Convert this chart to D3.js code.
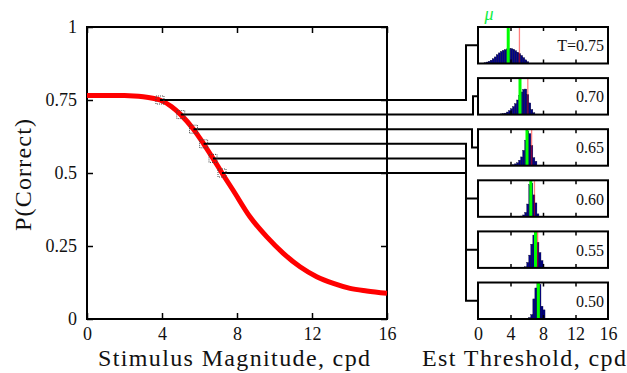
<!DOCTYPE html>
<html><head><meta charset="utf-8">
<script src="https://cdn.jsdelivr.net/npm/d3@7"></script>
<style>
body{margin:0;background:#fff}
svg{display:block}
svg text{font-family:"Liberation Serif","DejaVu Serif","Noto Serif",serif !important;fill:#111}
</style>
</head><body>
<svg id="c" width="627" height="373"></svg>
<script>
// ---------- data ----------
const curveX = [0, 1, 2, 2.5, 3, 3.5, 3.89, 4.5, 5.0, 5.68, 6.22, 6.72, 7.2, 7.8, 8.69, 9.58, 10.47, 11.36, 12.25, 13.14, 14.03, 14.92, 16];
const curveP = [0.765, 0.765, 0.765, 0.764, 0.761, 0.756, 0.75, 0.728, 0.70, 0.65, 0.60, 0.55, 0.50, 0.44, 0.35, 0.282, 0.225, 0.179, 0.145, 0.122, 0.105, 0.096, 0.088];

const levels = [0.75, 0.70, 0.65, 0.60, 0.55, 0.50];
const levelLabels = ["T=0.75", "0.70", "0.65", "0.60", "0.55", "0.50"];
const thresholdX = [3.89, 5.0, 5.68, 6.22, 6.72, 7.2];
const meanX = [3.72, 5.17, 6.03, 6.5, 7.08, 7.43];
const refX = [5.1, 6.13, 6.6, 6.95, 7.34, 7.5];

const binWidth = 0.25;
const histStart = [0.75, 2.5, 4.25, 5.25, 5.75, 6.25];
const hist075 = [2, 4, 6, 9, 13, 18, 24, 29, 33, 36, 38, 40, 41, 41, 39, 35, 31, 27, 22, 16, 10, 5];
const hist070 = [1, 2, 3, 4, 7, 11, 16, 22, 30, 40, 52, 62, 69, 70, 55, 32, 14, 5];
const hist065 = [3, 5, 8, 15, 24, 42, 70, 95, 88, 55, 22, 12];
const hist060 = [2, 5, 12, 35, 88, 92, 60, 38, 8];
const hist055 = [3, 15, 35, 65, 90, 98, 70, 42, 20];
const hist050 = [4, 12, 55, 85, 98, 95, 35, 25];
const histCounts = [hist075, hist070, hist065, hist060, hist055, hist050];

const mainTicksX = [0, 4, 8, 12, 16];
const mainTicksY = [0, 0.25, 0.5, 0.75, 1];
const mainTickLabelsY = ["0", "0.25", "0.5", "0.75", "1"];
const innerTicksX = [4, 8, 12];

// ---------- layout ----------
const FONT = '"Liberation Serif","DejaVu Serif","Noto Serif",serif';
const svg = d3.select("#c");
const main = {l: 87, r: 387, t: 27, b: 319};
const pan = {l: 478, r: 608, t: 27, b: 319};
const elbowOffset = [12, 5, 6, 12, 12, 12];

const x = d3.scaleLinear().domain([0, 16]).range([main.l, main.r]);
const y = d3.scaleLinear().domain([0, 1]).range([main.b, main.t]);
const px = d3.scaleLinear().domain([0, 16]).range([pan.l, pan.r]);
const band = d3.scaleBand().domain(d3.range(6)).range([pan.t, pan.b]).paddingInner(0.286).paddingOuter(0);
const hy = d3.scaleLinear().domain([0, 100]).range([band.bandwidth(), 0]);

function styleAxis(g, fs) {
  g.attr("font-family", FONT).attr("font-size", fs);
  g.select(".domain").remove();
  g.selectAll(".tick line").attr("stroke", "#000").attr("stroke-width", 1.5);
  g.selectAll(".tick text").attr("font-family", FONT).attr("font-size", fs).attr("fill", "#111");
}

// main axes (inner ticks)
svg.append("g").attr("transform", `translate(0,${main.b})`)
  .call(d3.axisBottom(x).tickValues(mainTicksX).tickSizeInner(-6).tickSizeOuter(0).tickPadding(8))
  .call(g => styleAxis(g, 18));
svg.append("g").attr("transform", `translate(0,${main.t})`)
  .call(d3.axisTop(x).tickValues(mainTicksX).tickSizeInner(-6).tickSizeOuter(0).tickFormat(""))
  .call(g => styleAxis(g, 18));
svg.append("g").attr("transform", `translate(${main.l},0)`)
  .call(d3.axisLeft(y).tickValues(mainTicksY).tickFormat((d, i) => mainTickLabelsY[i]).tickSizeInner(-6).tickSizeOuter(0).tickPadding(10))
  .call(g => styleAxis(g, 18));
svg.append("g").attr("transform", `translate(${main.r},0)`)
  .call(d3.axisRight(y).tickValues(mainTicksY).tickSizeInner(-6).tickSizeOuter(0).tickFormat(""))
  .call(g => styleAxis(g, 18));

svg.append("rect").attr("x", main.l).attr("y", main.t).attr("width", main.r - main.l).attr("height", main.b - main.t)
  .attr("fill", "none").attr("stroke", "#000").attr("stroke-width", 2);

// curve
const line = d3.line().x((d, i) => x(curveX[i])).y((d, i) => y(curveP[i])).curve(d3.curveMonotoneX);
svg.append("path").attr("d", line(curveX)).attr("fill", "none").attr("stroke", "#ff0000").attr("stroke-width", 5);

// connectors
levels.forEach((lv, i) => {
  const x0 = x(thresholdX[i]), y0 = y(lv);
  const ex = pan.l - elbowOffset[i];
  const ym = band(i) + band.bandwidth() / 2;
  svg.append("path").attr("d", `M${x0},${y0}H${ex}V${ym}H${pan.l}`)
    .attr("fill", "none").attr("stroke", "#000").attr("stroke-width", 2);
});

// markers
svg.selectAll("rect.mk").data(levels).join("rect").attr("class", "mk")
  .attr("x", (d, i) => x(thresholdX[i]) - 4).attr("y", d => y(d) - 4)
  .attr("width", 8).attr("height", 8)
  .attr("fill", "none").attr("stroke", "#444").attr("stroke-width", 1).attr("stroke-dasharray", "1,1");

// panels
const bw = band.bandwidth();
levels.forEach((lv, i) => {
  const g = svg.append("g").attr("transform", `translate(0,${band(i)})`);
  const counts = histCounts[i];
  g.selectAll("rect.bar").data(counts).join("rect").attr("class", "bar")
    .attr("x", (d, j) => px(histStart[i] + j * binWidth))
    .attr("width", px(binWidth) - px(0))
    .attr("y", d => hy(d)).attr("height", d => bw - hy(d))
    .attr("fill", "#00008b").attr("stroke", "#000022").attr("stroke-width", 0.35);
  g.append("line").attr("x1", px(refX[i])).attr("x2", px(refX[i])).attr("y1", 0).attr("y2", bw)
    .attr("stroke", "rgba(255,0,0,0.5)").attr("stroke-width", 1.3);
  g.append("line").attr("x1", px(meanX[i])).attr("x2", px(meanX[i])).attr("y1", 0).attr("y2", bw)
    .attr("stroke", "#00ff00").attr("stroke-width", 3);
  g.append("g").attr("transform", `translate(0,${bw})`)
    .call(d3.axisBottom(px).tickValues(innerTicksX).tickSizeInner(-4).tickSizeOuter(0).tickFormat(""))
    .call(a => styleAxis(a, 18));
  g.append("g")
    .call(d3.axisTop(px).tickValues(innerTicksX).tickSizeInner(-4).tickSizeOuter(0).tickFormat(""))
    .call(a => styleAxis(a, 18));
  g.append("rect").attr("x", pan.l).attr("y", 0).attr("width", pan.r - pan.l).attr("height", bw)
    .attr("fill", "none").attr("stroke", "#000").attr("stroke-width", 2);
  g.append("text").attr("x", pan.r - 4).attr("y", bw / 2 + 6).attr("text-anchor", "end")
    .attr("font-family", FONT).attr("font-size", 16).text(levelLabels[i]);
});

// bottom panel tick labels
svg.append("g").attr("transform", `translate(0,${pan.b})`)
  .call(d3.axisBottom(px).tickValues(mainTicksX).tickSize(0).tickPadding(8))
  .call(g => styleAxis(g, 18));

// mu label
svg.append("text").attr("x", 489).attr("y", 20).attr("text-anchor", "middle")
  .attr("font-family", FONT).attr("font-size", 18).attr("font-style", "italic").style("fill", "#11ee44").text("μ");

// axis titles
svg.append("text").attr("x", 234).attr("y", 366).attr("text-anchor", "middle")
  .attr("font-family", FONT).attr("font-size", 24).attr("textLength", 272).attr("lengthAdjust", "spacing").text("Stimulus Magnitude, cpd");
svg.append("text").attr("x", 524).attr("y", 366).attr("text-anchor", "middle")
  .attr("font-family", FONT).attr("font-size", 24).attr("textLength", 204).attr("lengthAdjust", "spacing").text("Est Threshold, cpd");
svg.append("text").attr("transform", "translate(31,175) rotate(-90)").attr("text-anchor", "middle")
  .attr("font-family", FONT).attr("font-size", 24).attr("textLength", 112).attr("lengthAdjust", "spacing").text("P(Correct)");
</script>
</body></html>
